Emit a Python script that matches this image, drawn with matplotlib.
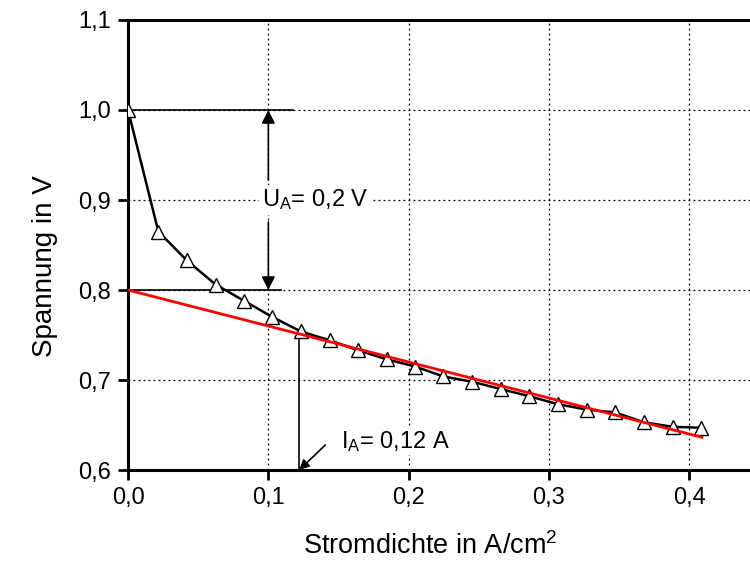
import matplotlib
matplotlib.use("Agg")
import matplotlib.pyplot as plt

plt.rcParams['font.family'] = ['Liberation Sans', 'DejaVu Sans']
plt.rcParams['mathtext.fontset'] = 'custom'
plt.rcParams['mathtext.rm'] = 'Liberation Sans'
plt.rcParams['mathtext.it'] = 'Liberation Sans:italic'

# Measured polarisation curve
current_density = [0.0, 0.0216, 0.0418, 0.0625, 0.0827, 0.1029, 0.1231, 0.144,
                   0.164, 0.1844, 0.2046, 0.2247, 0.2454, 0.2656, 0.2860, 0.3067,
                   0.3274, 0.3471, 0.3678, 0.3882, 0.4084]
voltage = [1.0, 0.865, 0.833, 0.806, 0.788, 0.770, 0.754, 0.744,
           0.733, 0.723, 0.715, 0.704, 0.698, 0.690, 0.682, 0.673,
           0.667, 0.664, 0.653, 0.648, 0.647]

# Linear fit of the ohmic region
fit_x = [0.0, 0.409]
fit_intercept = 0.8
fit_slope = -0.4

# Annotation values
u_open = 1.0
u_a = 0.2
i_a = 0.122
u_at_ia = 0.752

x_ticks = [0.0, 0.1, 0.2, 0.3, 0.4]
x_ticklabels = ['0,0', '0,1', '0,2', '0,3', '0,4']
y_ticks = [0.6, 0.7, 0.8, 0.9, 1.0, 1.1]
y_ticklabels = ['0,6', '0,7', '0,8', '0,9', '1,0', '1,1']

fig = plt.figure(figsize=(7.5, 5.68), dpi=100)
ax = fig.add_axes([0.1707, 0.1725, 0.8293, 0.7923])
ax.set_xlim(0, 0.4433)
ax.set_ylim(0.6, 1.1)

ax.set_xticks(x_ticks)
ax.set_xticklabels(x_ticklabels)
ax.set_yticks(y_ticks)
ax.set_yticklabels(y_ticklabels)
ax.tick_params(direction='out', length=7, width=2, labelsize=17, pad=5, color='black')

ax.grid(True, linestyle=(0, (1.5, 2.5)), color='black', linewidth=0.9)
ax.set_axisbelow(True)

for side in ('left', 'bottom', 'top'):
    ax.spines[side].set_linewidth(2.2)
ax.spines['right'].set_visible(False)

# Reference lines for the annotations
ax.plot([0, 0.1176], [u_open, u_open], color='black', lw=1.2, zorder=2)
ax.plot([0, 0.109], [u_open - u_a, u_open - u_a], color='black', lw=1.2, zorder=2)
ax.plot([i_a, i_a], [0.6, u_at_ia], color='black', lw=1.2, zorder=2)

# Measured data
ax.plot(current_density, voltage, color='black', lw=1.8, marker='^', markersize=10,
        markerfacecolor='white', markeredgecolor='black', markeredgewidth=1.0, zorder=3)

# Fitted line
fit_y = [fit_intercept + fit_slope * x for x in fit_x]
ax.plot(fit_x, fit_y, color='#ff0000', lw=2.0, zorder=4)

# Voltage drop arrows
arrow_kw = dict(arrowstyle='-|>', color='black', lw=1.2, mutation_scale=20,
                shrinkA=0, shrinkB=0)
ax.annotate('', xy=(0.1, u_open), xytext=(0.1, 0.9222), arrowprops=arrow_kw, zorder=5)
ax.annotate('', xy=(0.1, u_open - u_a), xytext=(0.1, 0.8756), arrowprops=arrow_kw, zorder=5)
ax.text(0.0955, 0.9, r'U$_\mathregular{A}$= 0,2 V', fontsize=17, ha='left', va='center',
        zorder=6, bbox=dict(facecolor='white', edgecolor='none', pad=2))

# Current marker annotation
ax.annotate('', xy=(i_a, 0.6), xytext=(0.1406, 0.6278),
            arrowprops=dict(arrowstyle='-|>', color='black', lw=1.2, mutation_scale=15,
                            shrinkA=0, shrinkB=0), zorder=5)
ax.text(0.1515, 0.632, r'I$_\mathregular{A}$= 0,12 A', fontsize=17, ha='left', va='center',
        zorder=6, bbox=dict(facecolor='white', edgecolor='none', pad=1))

ax.set_xlabel(r'Stromdichte in A/cm$^\mathregular{2}$', fontsize=19.5, va='center')
ax.set_ylabel('Spannung in V', fontsize=20, va='center')
ax.xaxis.set_label_coords(0.4855, -0.168)
ax.yaxis.set_label_coords(-0.133, 0.452)

fig.savefig('out.png', dpi=100)
